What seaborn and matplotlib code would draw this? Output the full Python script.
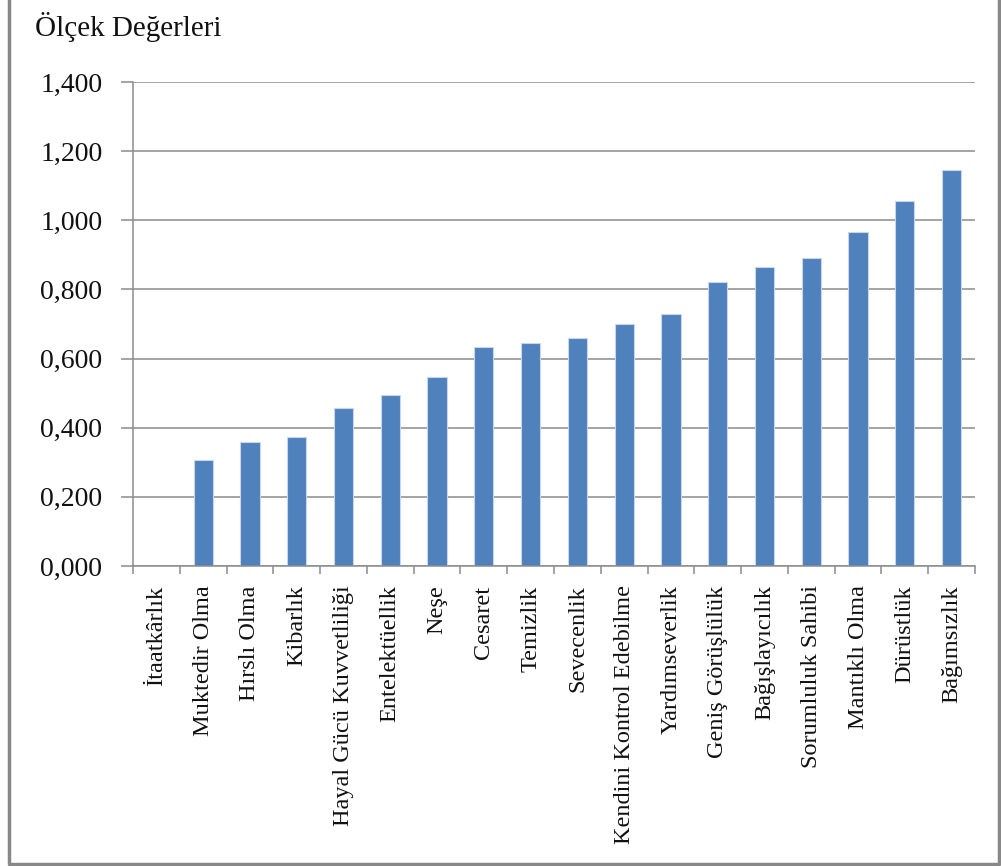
import matplotlib
matplotlib.use("Agg")
import matplotlib.pyplot as plt
import matplotlib.ticker as mticker
from matplotlib.lines import Line2D
import seaborn as sns
import pandas as pd
import numpy as np

categories = ["İtaatkârlık", "Muktedir Olma", "Hırslı Olma", "Kibarlık",
              "Hayal Gücü Kuvvetliliği", "Entelektüellik", "Neşe", "Cesaret",
              "Temizlik", "Sevecenlik", "Kendini Kontrol Edebilme", "Yardımseverlik",
              "Geniş Görüşlülük", "Bağışlayıcılık", "Sorumluluk Sahibi",
              "Mantıklı Olma", "Dürüstlük", "Bağımsızlık"]
values = [0.000, 0.307, 0.358, 0.372, 0.457, 0.494, 0.546, 0.633,
          0.645, 0.659, 0.699, 0.728, 0.821, 0.864, 0.890, 0.966, 1.057, 1.146]
y_ticks = [0.0, 0.2, 0.4, 0.6, 0.8, 1.0, 1.2, 1.4]
y_title = "Ölçek Değerleri"

df = pd.DataFrame({"cat": categories, "val": values})

sns.set_theme(style="white")
plt.rcParams['font.family'] = ['Liberation Serif', 'DejaVu Serif']

W, H = 1001, 866
fig = plt.figure(figsize=(W / 100, H / 100), dpi=100)
ax = fig.add_axes([133 / W, 1 - 566 / H, (975 - 133) / W, (566 - 82) / H])

sns.barplot(data=df, x="cat", y="val", color="#4F81BD", saturation=1,
            width=0.41, edgecolor="#C9D6EA", linewidth=0.8, ax=ax)

grid_c = "#8C8C8C"
ax.set_ylim(0, 1.4)
ax.set_xlim(-0.5, len(categories) - 0.5)
ax.set_yticks(y_ticks)
ax.yaxis.set_major_formatter(mticker.FuncFormatter(lambda v, p: f"{v:.3f}".replace(".", ",")))
ax.yaxis.grid(True, color=grid_c, linewidth=1.1)
ax.set_axisbelow(True)
for s in ["top", "right"]:
    ax.spines[s].set_visible(False)
for s in ["left", "bottom"]:
    ax.spines[s].set_color(grid_c)
    ax.spines[s].set_linewidth(1.1)

ax.tick_params(axis="y", which="major", direction="out", length=9, width=1.1,
               color=grid_c, labelsize=20, pad=13, left=True, labelcolor="#111111")
ax.set_xticks(range(len(categories)))
ax.set_xticklabels(categories, rotation=90, fontsize=17.5, color="#111111")
ax.tick_params(axis="x", which="major", length=0, pad=14)
ax.set_xticks(np.arange(-0.5, len(categories), 1.0), minor=True)
ax.tick_params(axis="x", which="minor", direction="out", length=6, width=1.1,
               color=grid_c, bottom=True)
ax.set_xlabel("")
ax.set_ylabel("")

fig.text(35 / W, 1 - 12 / H, y_title, ha="left", va="top", fontsize=21, color="#111111")

# outer frame
xs = [9 / W, 9 / W, 999 / W, 999 / W]
ys = [1.02, 1 - 864 / H, 1 - 864 / H, 1.02]
fig.add_artist(Line2D(xs, ys, transform=fig.transFigure, color="#888888", linewidth=2.5))

fig.savefig("out.png", dpi=100, facecolor="white")
